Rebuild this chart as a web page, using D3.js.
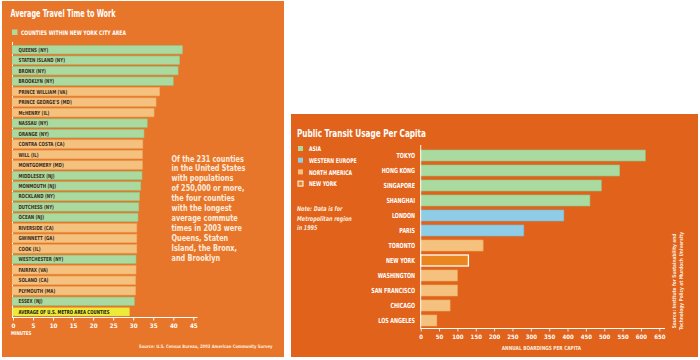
<!DOCTYPE html>
<html><head><meta charset="utf-8">
<script src="https://cdn.jsdelivr.net/npm/d3@7"></script>
<style>
html,body{margin:0;padding:0;background:#fff;}
svg{display:block;}
text{font-family:"DejaVu Sans Condensed","DejaVu Sans",sans-serif;font-weight:bold;}
</style></head>
<body>
<svg id="c" width="700" height="360"></svg>
<script>
// ---------- DATA ----------
const counties = ["QUEENS (NY)","STATEN ISLAND (NY)","BRONX (NY)","BROOKLYN (NY)","PRINCE WILLIAM (VA)","PRINCE GEORGE'S (MD)","McHENRY (IL)","NASSAU (NY)","ORANGE (NY)","CONTRA COSTA (CA)","WILL (IL)","MONTGOMERY (MD)","MIDDLESEX (NJ)","MONMOUTH (NJ)","ROCKLAND (NY)","DUTCHESS (NY)","OCEAN (NJ)","RIVERSIDE (CA)","GWINNETT (GA)","COOK (IL)","WESTCHESTER (NY)","FAIRFAX (VA)","SOLANO (CA)","PLYMOUTH (MA)","ESSEX (NJ)"];
const minutes = [42.3,41.6,41.2,40.0,36.6,35.7,35.2,33.5,32.7,32.4,32.3,32.3,32.2,31.9,31.6,31.4,31.2,30.9,30.9,30.9,30.7,30.7,30.6,30.6,30.3];
const nycArea = [true,true,true,true,false,false,false,true,true,false,false,false,true,true,true,true,true,false,false,false,true,false,false,false,true];
const averageLabel = "AVERAGE OF U.S. METRO AREA COUNTIES";
const averageMinutes = 29.1;
const minuteTicks = [0,5,10,15,20,25,30,35,40,45];

const cities = ["TOKYO","HONG KONG","SINGAPORE","SHANGHAI","LONDON","PARIS","TORONTO","NEW YORK","WASHINGTON","SAN FRANCISCO","CHICAGO","LOS ANGELES"];
const boardings = [612,542,492,461,390,281,170,130,100,100,80,44];
const regions = ["asia","asia","asia","asia","europe","europe","na","ny","na","na","na","na"];
const regionNames = ["ASIA","WESTERN EUROPE","NORTH AMERICA","NEW YORK"];
const boardingTicks = d3.range(0,651,50);

const noteLines = ["Of the 231 counties","in the United States","with populations","of 250,000 or more,","the four counties","with the longest","average commute","times in 2003 were","Queens, Staten","Island, the Bronx,","and Brooklyn"];

// ---------- STYLE ----------
const C = {
  bgL:"#E8762A", bgR:"#E0621B",
  green:"#ABDAA0", greenS:"#8DC781",
  tan:"#F4C27E", tanS:"#EBAE62",
  blue:"#8FCDE6", blueS:"#77B9D4",
  ny:"#EB861E", yellow:"#F1EE3C",
  dark:"#3B2A1C", white:"#FFFFFF", note:"#FCEBDD"
};
const regionFill = {asia:C.green, europe:C.blue, na:C.tan, ny:C.ny};
const regionStroke = {asia:C.greenS, europe:C.blueS, na:C.tanS, ny:C.white};
const regionKeys = ["asia","europe","na","ny"];

function squeeze(sel, k){
  sel.each(function(){
    const L = this.getComputedTextLength();
    this.setAttribute("textLength", (L*k).toFixed(2));
    this.setAttribute("lengthAdjust","spacingAndGlyphs");
  });
}
function fitTo(sel, w){
  sel.attr("textLength", w).attr("lengthAdjust","spacingAndGlyphs");
}

const svg = d3.select("#c");
const defs = svg.append("defs");
const pat = defs.append("pattern").attr("id","dots").attr("patternUnits","userSpaceOnUse")
  .attr("width",2).attr("height",2);
pat.append("rect").attr("width",2).attr("height",2).attr("fill",C.yellow);
pat.append("circle").attr("cx",1).attr("cy",1).attr("r",0.45).attr("fill","#D6CF2A");

// ================= LEFT PANEL =================
svg.append("rect").attr("x",2).attr("y",1).attr("width",282).attr("height",356).attr("fill",C.bgL);

const L = svg.append("g");
fitTo(L.append("text").attr("x",10.5).attr("y",17).attr("fill",C.white).attr("font-size",10)
  .text("Average Travel Time to Work"), 105);

L.append("rect").attr("x",12).attr("y",29.5).attr("width",5.5).attr("height",5.5)
  .attr("fill",C.green);
fitTo(L.append("text").attr("x",21).attr("y",34.5).attr("fill",C.white).attr("font-size",6.2)
  .text("COUNTIES WITHIN NEW YORK CITY AREA"), 105);

const allLabels = counties.concat([averageLabel]);
const xL = d3.scaleLinear().domain([0,45]).range([13,193.3]);
const yL = d3.scaleBand().domain(allLabels).range([44.5,317]).paddingInner(0.2).paddingOuter(0.1);

// y axis line
L.append("line").attr("x1",12.5).attr("x2",12.5).attr("y1",42).attr("y2",317.5)
  .attr("stroke",C.white).attr("stroke-width",1);

const rowsL = L.selectAll("g.row").data(counties.map((c,i)=>({c, v:minutes[i], ny:nycArea[i]})))
  .enter().append("g");
rowsL.append("rect")
  .attr("x",xL(0)-0.5).attr("y",d=>yL(d.c))
  .attr("width",d=>xL(d.v)-xL(0)+0.5).attr("height",yL.bandwidth())
  .attr("fill",d=>d.ny?C.green:C.tan)
  .attr("stroke",d=>d.ny?C.greenS:C.tanS).attr("stroke-width",0.6);
const lblL = rowsL.append("text").attr("x",18.5).attr("y",d=>yL(d.c)+yL.bandwidth()/2+2)
  .attr("fill",C.dark).attr("font-size",5.6).text(d=>d.c);
squeeze(lblL, 0.8);

// average bar
L.append("rect").attr("x",xL(0)-0.5).attr("y",yL(averageLabel))
  .attr("width",xL(averageMinutes)-xL(0)+0.5).attr("height",yL.bandwidth())
  .attr("fill","url(#dots)");
squeeze(L.append("text").attr("x",18.5).attr("y",yL(averageLabel)+yL.bandwidth()/2+2)
  .attr("fill","#1E1A10").attr("font-size",5.4).text(averageLabel), 0.8);

// x axis
const axL = L.append("g").attr("transform","translate(0,317.5)")
  .call(d3.axisBottom(xL).tickValues(minuteTicks).tickSize(3).tickSizeOuter(0).tickPadding(3));
axL.select(".domain").remove();
axL.selectAll(".tick line").attr("stroke",C.white).attr("stroke-width",1);
axL.selectAll(".tick text").attr("fill",C.white).attr("font-size",6.2)
  .attr("font-family",'"DejaVu Sans Condensed",sans-serif').attr("font-weight","bold");
L.append("line").attr("x1",12).attr("x2",197.5).attr("y1",317.5).attr("y2",317.5)
  .attr("stroke",C.white).attr("stroke-width",1);
squeeze(L.append("text").attr("x",11).attr("y",335).attr("fill",C.white).attr("font-size",5.2)
  .text("MINUTES"), 0.85);

// note
L.selectAll("text.note").data(noteLines).enter().append("text")
  .attr("x",171.5).attr("y",(d,i)=>161.5+i*9.9).attr("fill",C.note).attr("font-size",9.3)
  .text(d=>d).call(s=>squeeze(s,0.78));

squeeze(L.append("text").attr("x",139).attr("y",347.5).attr("fill",C.note).attr("font-size",4.6)
  .text("Source: U.S. Census Bureau, 2003 American Community Survey"), 0.9);

// ================= RIGHT PANEL =================
svg.append("rect").attr("x",291).attr("y",114).attr("width",407).attr("height",243).attr("fill",C.bgR);
const R = svg.append("g");

fitTo(R.append("text").attr("x",297).attr("y",136.5).attr("fill",C.white).attr("font-size",10)
  .text("Public Transit Usage Per Capita"), 129);

// legend
const lg = R.selectAll("g.lg").data(regionKeys).enter().append("g")
  .attr("transform",(d,i)=>`translate(297.5,${145.5+i*11.7})`);
lg.append("rect").attr("x",0.5).attr("y",0.5).attr("width",5).attr("height",5)
  .attr("fill",d=>regionFill[d])
  .attr("stroke",d=>d==="ny"?C.white:"none").attr("stroke-width",1);
lg.append("text").attr("x",11.5).attr("y",5.6).attr("fill",C.white).attr("font-size",6.4)
  .text((d,i)=>regionNames[i]).call(s=>squeeze(s,0.8));

// note
const noteR = ["Note: Data is for","Metropolitan region","in 1995"];
R.selectAll("text.nr").data(noteR).enter().append("text")
  .attr("x",297).attr("y",(d,i)=>211+i*9.5).attr("fill",C.note).attr("font-size",6.6)
  .attr("font-style","italic").attr("font-weight","normal")
  .text(d=>d).call(s=>squeeze(s,0.82));

const xR = d3.scaleLinear().domain([0,650]).range([420.7,659.3]);
const yR = d3.scaleBand().domain(cities).range([148,328]).paddingInner(0.267).paddingOuter(0.133);

const rowsR = R.selectAll("g.rr").data(cities.map((c,i)=>({c, v:boardings[i], r:regions[i]})))
  .enter().append("g");
rowsR.append("rect")
  .attr("x",xR(0)).attr("y",d=>yR(d.c))
  .attr("width",d=>xR(d.v)-xR(0)).attr("height",yR.bandwidth())
  .attr("fill",d=>regionFill[d.r])
  .attr("stroke",d=>regionStroke[d.r]).attr("stroke-width",d=>d.r==="ny"?1.3:0.6);
rowsR.append("text").attr("x",415).attr("y",d=>yR(d.c)+yR.bandwidth()/2+2.5)
  .attr("text-anchor","end").attr("fill",C.white).attr("font-size",7)
  .text(d=>d.c).call(s=>squeeze(s,0.76));

// y axis line
R.append("line").attr("x1",420.7).attr("x2",420.7).attr("y1",145).attr("y2",328.5)
  .attr("stroke",C.white).attr("stroke-width",1);
// x axis
const axR = R.append("g").attr("transform","translate(0,328.5)")
  .call(d3.axisBottom(xR).tickValues(boardingTicks).tickSize(3).tickSizeOuter(0).tickPadding(3));
axR.select(".domain").remove();
axR.selectAll(".tick line").attr("stroke",C.white).attr("stroke-width",0.8);
axR.selectAll(".tick text").attr("fill",C.white).attr("font-size",6)
  .attr("font-family",'"DejaVu Sans Condensed",sans-serif').attr("font-weight","bold");
R.append("line").attr("x1",420.2).attr("x2",665).attr("y1",328.5).attr("y2",328.5)
  .attr("stroke",C.white).attr("stroke-width",1.2);
squeeze(R.append("text").attr("x",541.5).attr("y",350).attr("text-anchor","middle")
  .attr("fill",C.note).attr("font-size",5.6).text("ANNUAL BOARDINGS PER CAPITA"), 0.85);

// source rotated
const src = R.append("g").attr("transform","translate(676,281) rotate(-90)");
src.append("text").attr("x",0).attr("y",0).attr("text-anchor","middle").attr("fill",C.note)
  .attr("font-size",5.2).attr("font-weight","normal")
  .text("Source: Institute for Sustainability and").call(s=>squeeze(s,0.92));
src.append("text").attr("x",0).attr("y",7).attr("text-anchor","middle").attr("fill",C.note)
  .attr("font-size",5.2).attr("font-weight","normal")
  .text("Technology Policy at Murdoch University").call(s=>squeeze(s,0.92));
</script>
</body></html>
